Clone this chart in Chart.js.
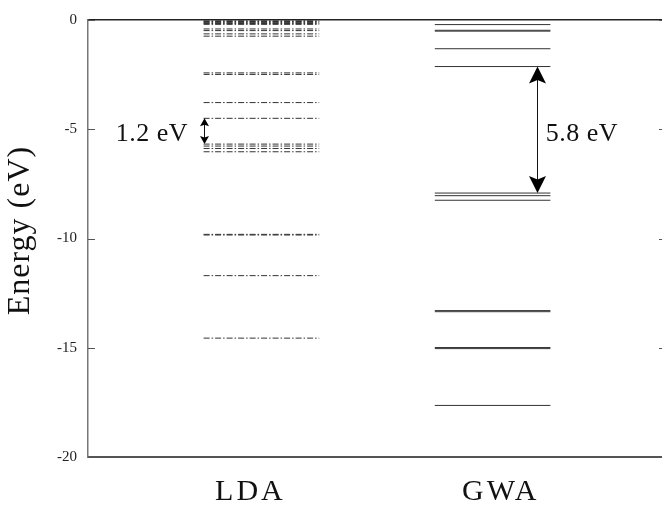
<!DOCTYPE html>
<html><head><meta charset="utf-8">
<script src="https://cdn.jsdelivr.net/npm/chart.js@4.4.0/dist/chart.umd.min.js"></script>
<style>
html,body{margin:0;padding:0;background:#fff;overflow:hidden;width:662px;height:510px}
#wrap{position:absolute;left:0;top:0;width:672px;height:510px}
</style></head>
<body><div id="wrap"><canvas id="c"></canvas></div>
<script>
// ---- data ----
const categories = ['LDA', 'GWA'];
const ldaLevels = [-0.04, -0.07, -0.10, -0.13, -0.16, -0.20, -0.41, -0.485, -0.635, -0.74,
                   -2.42, -2.49, -3.78, -4.50, -5.68, -5.77, -5.88, -6.03,
                   -9.81, -9.84, -11.70, -14.56];
const gwaLevels = [-0.21, -0.47, -0.51, -1.315, -2.13, -7.92, -8.04, -8.25,
                   -13.30, -13.35, -14.99, -15.04, -17.64];
const gapLabels = ['1.2 eV', '5.8 eV'];
const gapFrom = [-4.50, -2.13];
const gapTo = [-5.68, -7.92];
const yTickValues = [0, -5, -10, -15, -20];
const yTickLabels = ['0', '-5', '-10', '-15', '-20'];

// ---- layout / style (not data) ----
const columnSpan = [[2, 4], [6, 8]];
const xLabelAt = [2.81, 7.14];
const arrowStyle = [
  {x: 2.01, len: 8, half: 4.5, notch: 1.5, tx: 1.73, ty: -5.55, align: 'right'},
  {x: 7.77, len: 17, half: 8.5, notch: 3.5, tx: 7.92, ty: -5.55, align: 'left'}
];

function segs(levels, span) {
  const d = [];
  levels.forEach(e => { d.push({x: span[0], y: e}, {x: span[1], y: e}, {x: span[1], y: null}); });
  return d;
}

function withSpacing(scale, method, sp, dy) {
  const key = '_patched_' + method;
  if (scale[key]) return;
  const orig = scale[method];
  scale[method] = function (...args) {
    const c = this.ctx;
    c.save();
    c.letterSpacing = sp;
    if (dy) c.translate(0, dy);
    orig.apply(this, args);
    c.restore();
  };
  scale[key] = true;
}

const spacingPlugin = {
  id: 'spacing',
  beforeDraw(chart) {
    withSpacing(chart.scales.x, 'drawLabels', '3px', 0);
    withSpacing(chart.scales.y, 'drawTitle', '1px', -8);
  }
};

const decoPlugin = {
  id: 'deco',
  afterDraw(chart) {
    const {ctx, chartArea: a, scales: {x, y}} = chart;
    ctx.save();
    ctx.strokeStyle = '#555';
    ctx.lineWidth = 1;
    yTickValues.forEach(v => {
      const py = Math.round(y.getPixelForValue(v)) + 0.5;
      ctx.beginPath();
      ctx.moveTo(a.left, py); ctx.lineTo(a.left + 7, py);
      ctx.moveTo(a.right - 7, py); ctx.lineTo(a.right, py);
      ctx.stroke();
    });
    arrowStyle.forEach((s, i) => {
      const px = Math.round(x.getPixelForValue(s.x)) + 0.5;
      const y1 = y.getPixelForValue(gapFrom[i]);
      const y2 = y.getPixelForValue(gapTo[i]);
      ctx.strokeStyle = '#111';
      ctx.fillStyle = '#000';
      ctx.lineWidth = 1;
      ctx.beginPath();
      ctx.moveTo(px, y1 + 2); ctx.lineTo(px, y2 - 2);
      ctx.stroke();
      [[y1, -1], [y2, 1]].forEach(([tip, d]) => {
        ctx.beginPath();
        ctx.moveTo(px, tip);
        ctx.lineTo(px - s.half, tip - d * s.len);
        ctx.lineTo(px, tip - d * (s.len - s.notch));
        ctx.lineTo(px + s.half, tip - d * s.len);
        ctx.closePath();
        ctx.fill();
      });
      ctx.font = '26px "Liberation Serif"';
      ctx.letterSpacing = '0.5px';
      ctx.textAlign = s.align;
      ctx.textBaseline = 'alphabetic';
      ctx.fillStyle = '#111';
      ctx.fillText(gapLabels[i], x.getPixelForValue(s.tx), y.getPixelForValue(s.ty));
      ctx.letterSpacing = '0px';
    });
    ctx.restore();
  }
};

new Chart(document.getElementById('c'), {
  type: 'line',
  data: {
    datasets: [
      {
        label: categories[0],
        data: segs(ldaLevels, columnSpan[0]),
        borderColor: '#333',
        borderWidth: 1,
        borderDash: [6, 2, 1.5, 2],
        pointRadius: 0,
        spanGaps: false,
        fill: false
      },
      {
        label: categories[1],
        data: segs(gwaLevels, columnSpan[1]),
        borderColor: '#333',
        borderWidth: 1,
        pointRadius: 0,
        spanGaps: false,
        fill: false
      }
    ]
  },
  options: {
    responsive: true,
    maintainAspectRatio: false,
    devicePixelRatio: 1,
    animation: false,
    layout: {padding: {left: 0, right: 6, top: 16, bottom: 0}},
    plugins: {legend: {display: false}, tooltip: {enabled: false}},
    scales: {
      x: {
        type: 'linear',
        position: 'bottom',
        min: 0, max: 10,
        grid: {display: true, drawOnChartArea: false, drawTicks: false},
        border: {display: true, color: '#555', width: 2},
        afterBuildTicks: (s) => { s.ticks = xLabelAt.map(v => ({value: v})); },
        afterFit: (s) => { s.height = 53; },
        ticks: {
          autoSkip: false,
          maxRotation: 0,
          padding: 17,
          color: '#111',
          font: {family: 'Liberation Serif', size: 30},
          callback: (v, i) => categories[i]
        }
      },
      x2: {
        type: 'linear',
        axis: 'x',
        position: 'top',
        min: 0, max: 10,
        grid: {display: true, drawOnChartArea: false, drawTicks: false},
        border: {display: true, color: '#222', width: 1.5},
        ticks: {display: false},
        afterFit: (s) => { s.height = 0; }
      },
      y: {
        type: 'linear',
        min: -20, max: 0,
        grid: {display: true, drawOnChartArea: false, drawTicks: false},
        border: {display: true, color: '#777', width: 1.5},
        afterFit: (s) => { s.width = 88; },
        ticks: {
          stepSize: 5,
          padding: 11,
          color: '#222',
          font: {family: 'Liberation Serif', size: 15},
          callback: (v) => { const k = yTickValues.indexOf(v); return k >= 0 ? yTickLabels[k] : ''; }
        },
        title: {
          display: true,
          text: 'Energy (eV)',
          color: '#111',
          font: {family: 'Liberation Serif', size: 32},
          padding: {top: 1, bottom: 0}
        }
      }
    }
  },
  plugins: [spacingPlugin, decoPlugin]
});
</script>
</body></html>
